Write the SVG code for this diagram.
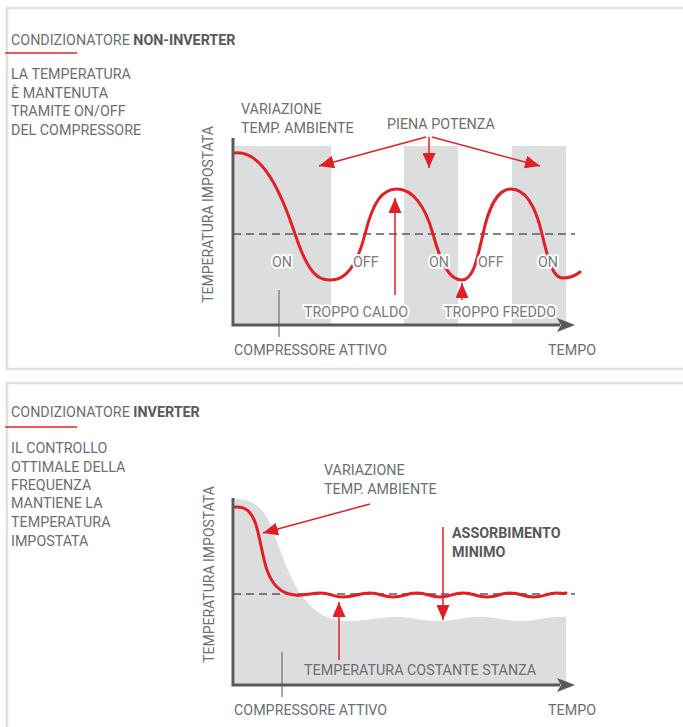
<svg xmlns="http://www.w3.org/2000/svg" width="683" height="727" viewBox="0 0 683 727">
<defs>
<style>
text{font-family:Roboto,"Liberation Sans",sans-serif;font-size:14.3px;fill:#6d6e71}
.b{font-weight:bold;fill:#58595b}
.lbl{stroke:#fff;stroke-width:4;paint-order:stroke;stroke-linejoin:round;fill:#7a7a7c}
.panel{fill:none;stroke:#e0e0e0;stroke-width:2.5}
.ul{stroke:#e31e24;stroke-width:1.5}
.band{fill:#dcdddf}
.axis{stroke:#58595b;stroke-width:3;fill:none}
.dash{stroke:#58595b;stroke-width:1.5;stroke-dasharray:8 5;fill:none}
.curve{stroke:#e31e24;stroke-width:3;fill:none;stroke-linecap:round}
.arr{stroke:#e31e24;stroke-width:1.5;fill:none;marker-end:url(#ah)}
.tick{stroke:#58595b;stroke-width:1}
.ylab{font-size:14px}
</style>
<marker id="ah" markerUnits="userSpaceOnUse" markerWidth="16" markerHeight="13" refX="15" refY="6.5" orient="auto">
<path d="M0,0 L15,6.5 L0,13 z" fill="#e31e24"/>
</marker>
</defs>

<!-- TOP PANEL -->
<g id="panel-top">
<rect class="panel" x="7" y="8" width="700" height="361"/>
<text x="11" y="45">CONDIZIONATORE <tspan class="b">NON-INVERTER</tspan></text>
<line class="ul" x1="5" y1="53" x2="77" y2="53"/>
<text x="11" y="79">LA TEMPERATURA</text>
<text x="11" y="98">È MANTENUTA</text>
<text x="11" y="116">TRAMITE ON/OFF</text>
<text x="11" y="135">DEL COMPRESSORE</text>
</g>

<g id="chart-top">
<rect class="band" x="235" y="146" width="96" height="179"/>
<rect class="band" x="404" y="146" width="54" height="179"/>
<rect class="band" x="512" y="146" width="54" height="179"/>
<line class="dash" x1="233" y1="234" x2="575" y2="234"/>
<path class="curve" d="M235,153 C263,150 282,195 295,234 C308,273 318,281 331,280 C345,280 357,266 365,234 C373,202 382,189 397,189 C412,189 425,205 433,234 C441,263 449,280 462,280 C473,280 477,260 483,234 C488,210 497,189 511,189 C525,189 535,204 542,234 C549,263 553,278 563,278 C570,278 575,276 580,272"/>
<polyline class="axis" points="233,138 233,325 560,325"/>
<path d="M557,318 L575,325 L557,332 L561,325 z" fill="#58595b"/>
<line class="tick" x1="279" y1="290" x2="279" y2="337"/>
<text class="ylab" transform="translate(213,214.5) rotate(-90)" text-anchor="middle">TEMPERATURA IMPOSTATA</text>
</g>

<g id="labels-top">
<text class="lbl" x="272" y="267">ON</text>
<text class="lbl" x="353" y="267">OFF</text>
<text class="lbl" x="429" y="267">ON</text>
<text class="lbl" x="478" y="267">OFF</text>
<text class="lbl" x="538" y="267">ON</text>
<text x="241" y="114">VARIAZIONE</text>
<text x="241" y="133">TEMP. AMBIENTE</text>
<text x="387" y="129">PIENA POTENZA</text>
<text class="lbl" x="304" y="317">TROPPO CALDO</text>
<text class="lbl" x="444" y="317">TROPPO FREDDO</text>
<text x="234" y="355">COMPRESSORE ATTIVO</text>
<text x="548" y="355">TEMPO</text>
</g>

<g id="connectors-top">
<line class="arr" x1="426" y1="137" x2="319" y2="166"/>
<line class="arr" x1="429" y1="137" x2="429" y2="168"/>
<line class="arr" x1="432" y1="137" x2="540" y2="166"/>
<line class="arr" x1="395" y1="295" x2="395" y2="198"/>
<line class="arr" x1="462" y1="300" x2="462" y2="283"/>
</g>

<!-- BOTTOM PANEL -->
<g id="panel-bottom">
<rect class="panel" x="7" y="383" width="700" height="360"/>
<text x="11" y="417">CONDIZIONATORE <tspan class="b">INVERTER</tspan></text>
<line class="ul" x1="5" y1="427" x2="77" y2="427"/>
<text x="11" y="453">IL CONTROLLO</text>
<text x="11" y="472">OTTIMALE DELLA</text>
<text x="11" y="490">FREQUENZA</text>
<text x="11" y="508">MANTIENE LA</text>
<text x="11" y="527">TEMPERATURA</text>
<text x="11" y="546">IMPOSTATA</text>
</g>

<g id="chart-bottom">
<path class="band" d="M235,499 C255,499 265,510 272,528 C282,555 292,585 305,600 C315,612 328,620 343,621 C365,622 380,616 400,617 C418,618 428,622 442,621 C458,620 470,616 485,617 C500,618 512,622 525,621 C540,620 552,616 566,617 L566,685 L235,685 Z"/>
<line class="dash" x1="233" y1="594" x2="575" y2="594"/>
<path class="curve" d="M235,507 C246,506 251,512 255,522 C260,535 262,556 267,570 C273,587 282,594 295,595 C305,596 312,593 320,593 C331,593 333,597 343,597 C355,597 358,593 370,593 C381,593 382,597 393,597 C405,597 405,593 417,593 C428,593 429,597 440,597 C452,597 452,593 463,593 C475,593 475,597 487,597 C499,597 498,593 510,593 C522,593 522,597 534,597 C546,597 546,593 557,593 C561,593 563,594 566,593"/>
<polyline class="axis" points="233,498 233,685 560,685"/>
<path d="M557,678 L575,685 L557,692 L561,685 z" fill="#58595b"/>
<line class="tick" x1="282" y1="652" x2="282" y2="697"/>
<text class="ylab" transform="translate(214,574.5) rotate(-90)" text-anchor="middle">TEMPERATURA IMPOSTATA</text>
</g>

<g id="labels-bottom">
<text x="324" y="475">VARIAZIONE</text>
<text x="324" y="494">TEMP. AMBIENTE</text>
<text class="b" x="452" y="538">ASSORBIMENTO</text>
<text class="b" x="452" y="557">MINIMO</text>
<text x="304" y="675">TEMPERATURA COSTANTE STANZA</text>
<text x="234" y="715">COMPRESSORE ATTIVO</text>
<text x="548" y="715">TEMPO</text>
</g>

<g id="connectors-bottom">
<line class="arr" x1="370" y1="504" x2="263" y2="533"/>
<line class="arr" x1="443" y1="527" x2="443" y2="620"/>
<line class="arr" x1="339" y1="660" x2="339" y2="602"/>
</g>
</svg>
